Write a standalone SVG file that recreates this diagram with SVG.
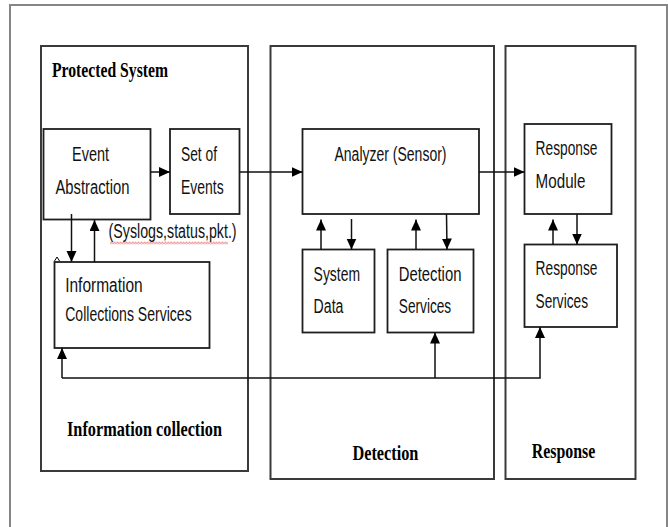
<svg xmlns="http://www.w3.org/2000/svg" width="668" height="527" viewBox="0 0 668 527">
<style>
.frame{fill:none;stroke:#858585;stroke-width:2}
.panel{fill:none;stroke:#3a3a3a;stroke-width:2}
.box{fill:#fff;stroke:#1e1e1e;stroke-width:1.8}
.lbl{font-family:"Liberation Sans",Arial,sans-serif;font-size:20px;fill:#111}
.ttl{font-family:"Liberation Serif","Times New Roman",serif;font-weight:bold;font-size:22px;fill:#000}
.conn{stroke:#111;stroke-width:1.5;fill:none}
</style>
<defs>
<marker id="ah" markerUnits="userSpaceOnUse" markerWidth="12" markerHeight="11" refX="11" refY="5" orient="auto">
<path d="M0,0 L11,5 L0,10 z" fill="#000"/>
</marker>
<pattern id="squig" patternUnits="userSpaceOnUse" x="110" y="241.5" width="3" height="3">
<path d="M0,2.5 L1.5,0.5 L3,2.5" fill="none" stroke="#e03030" stroke-width="0.8"/>
</pattern>
</defs>
<rect width="668" height="527" fill="#fff"/>
<rect class="frame" x="10" y="5" width="657" height="540"/>

<g id="panel-information-collection">
<rect class="panel" x="41" y="46" width="207" height="425"/>
<text class="ttl" x="52" y="77.3" textLength="116" lengthAdjust="spacingAndGlyphs">Protected System</text>
<text class="ttl" x="67" y="436.3" textLength="155" lengthAdjust="spacingAndGlyphs">Information collection</text>
</g>
<g id="panel-detection">
<rect class="panel" x="270.5" y="46" width="223.5" height="433"/>
<text class="ttl" x="352.4" y="460" textLength="66" lengthAdjust="spacingAndGlyphs">Detection</text>
</g>
<g id="panel-response">
<rect class="panel" x="505.5" y="46" width="130" height="433"/>
<text class="ttl" x="531.7" y="458" textLength="63.5" lengthAdjust="spacingAndGlyphs">Response</text>
</g>

<g id="event-abstraction">
<rect class="box" x="43.5" y="129" width="107" height="90.5"/>
<text class="lbl" x="72" y="160.7" textLength="37" lengthAdjust="spacingAndGlyphs">Event</text>
<text class="lbl" x="55.4" y="193.5" textLength="74" lengthAdjust="spacingAndGlyphs">Abstraction</text>
</g>
<g id="set-of-events">
<rect class="box" x="170" y="129" width="69.5" height="85"/>
<text class="lbl" x="181" y="160.7" textLength="36" lengthAdjust="spacingAndGlyphs">Set of</text>
<text class="lbl" x="181" y="193.5" textLength="42.7" lengthAdjust="spacingAndGlyphs">Events</text>
</g>
<g id="analyzer">
<rect class="box" x="302.5" y="129" width="176.5" height="85"/>
<text class="lbl" x="334.5" y="161.3" textLength="112" lengthAdjust="spacingAndGlyphs">Analyzer (Sensor)</text>
</g>
<g id="response-module">
<rect class="box" x="524.5" y="124" width="87" height="90"/>
<text class="lbl" x="535.6" y="154.5" textLength="61.8" lengthAdjust="spacingAndGlyphs">Response</text>
<text class="lbl" x="535.6" y="188" textLength="49.8" lengthAdjust="spacingAndGlyphs">Module</text>
</g>
<g id="system-data">
<rect class="box" x="302.5" y="249.5" width="72" height="83"/>
<text class="lbl" x="313.6" y="280.7" textLength="46.4" lengthAdjust="spacingAndGlyphs">System</text>
<text class="lbl" x="313.6" y="313" textLength="29.8" lengthAdjust="spacingAndGlyphs">Data</text>
</g>
<g id="detection-services">
<rect class="box" x="387.5" y="249.5" width="86" height="83"/>
<text class="lbl" x="398.8" y="280.7" textLength="62.6" lengthAdjust="spacingAndGlyphs">Detection</text>
<text class="lbl" x="398.8" y="313" textLength="52.4" lengthAdjust="spacingAndGlyphs">Services</text>
</g>
<g id="response-services">
<rect class="box" x="524.5" y="244.5" width="92.5" height="82.5"/>
<text class="lbl" x="535.6" y="274.5" textLength="61.8" lengthAdjust="spacingAndGlyphs">Response</text>
<text class="lbl" x="535.6" y="307.5" textLength="52.4" lengthAdjust="spacingAndGlyphs">Services</text>
</g>
<g id="information-collections-services">
<rect class="box" x="54.5" y="262" width="155" height="86"/>
<text class="lbl" x="65.2" y="292.4" textLength="77.5" lengthAdjust="spacingAndGlyphs">Information</text>
<text class="lbl" x="65.2" y="321.3" textLength="126.5" lengthAdjust="spacingAndGlyphs">Collections Services</text>
</g>

<g id="connectors">
<path class="conn" d="M150.5,172 H170" marker-end="url(#ah)"/>
<path class="conn" d="M239.5,172 H302.5" marker-end="url(#ah)"/>
<path class="conn" d="M479,172 H524.5" marker-end="url(#ah)"/>
<path class="conn" d="M71.5,214 V262" marker-end="url(#ah)"/>
<path class="conn" d="M94.5,262 V220" marker-end="url(#ah)"/>
<path class="conn" d="M321,249.5 V219.5" marker-end="url(#ah)"/>
<path class="conn" d="M351.5,219 V249.5" marker-end="url(#ah)"/>
<path class="conn" d="M416,249.5 V219.5" marker-end="url(#ah)"/>
<path class="conn" d="M446.5,214 L447,249.5" marker-end="url(#ah)"/>
<path class="conn" d="M553,244.5 V219.5" marker-end="url(#ah)"/>
<path class="conn" d="M577,214 V244.5" marker-end="url(#ah)"/>
<path class="conn" d="M62,378 H540 V327" marker-end="url(#ah)"/>
<path class="conn" d="M62,378 V348" marker-end="url(#ah)"/>
<path class="conn" d="M435,378 V332.5" marker-end="url(#ah)"/>
<path d="M54.5,261 L57,257 L59.5,261" fill="none" stroke="#000" stroke-width="1"/>
<text class="lbl" x="108.6" y="237.5" textLength="128" lengthAdjust="spacingAndGlyphs">(Syslogs,status,pkt.)</text>
<rect x="110" y="241.5" width="118" height="3" fill="url(#squig)"/>
</g>
</svg>
